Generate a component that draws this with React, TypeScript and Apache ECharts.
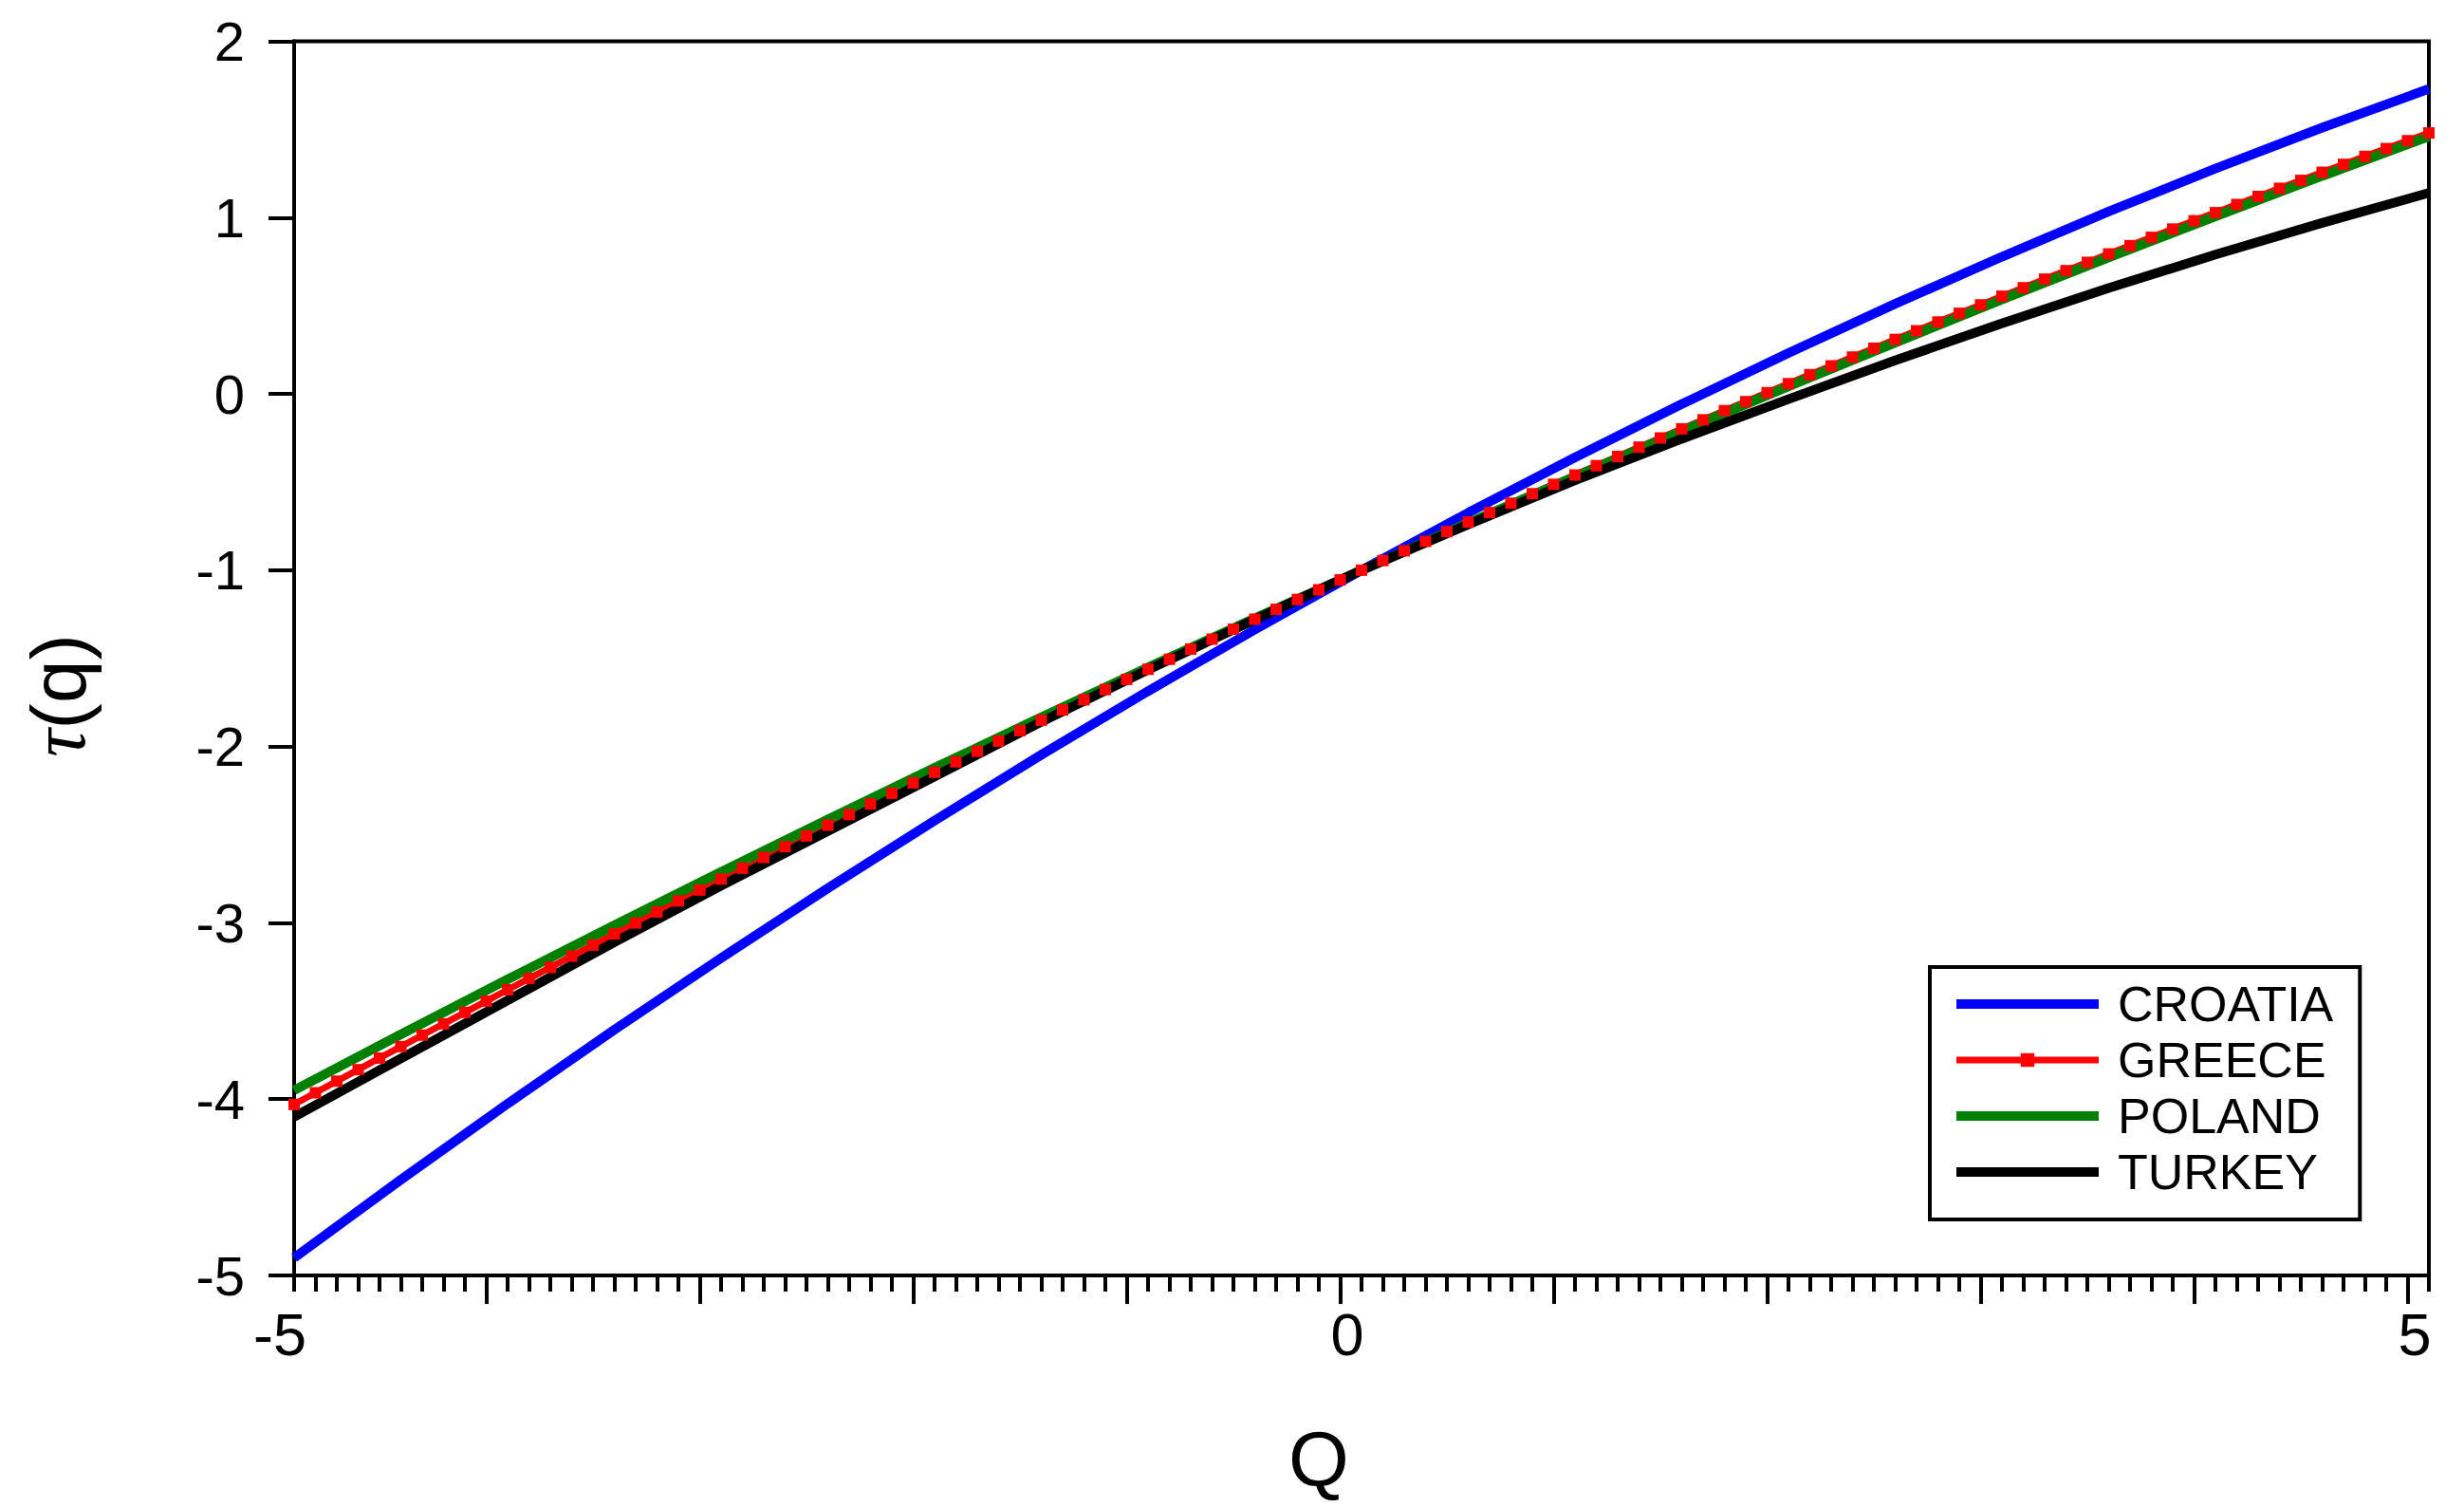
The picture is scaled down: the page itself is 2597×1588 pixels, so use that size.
import React, { useEffect, useRef } from 'react';
import * as echarts from 'echarts';

// q grid for the marked GREECE series (every 0.1)
const Q_FINE = [
  -5, -4.9, -4.8, -4.7, -4.6, -4.5, -4.4, -4.3, -4.2, -4.1,
  -4, -3.9, -3.8, -3.7, -3.6, -3.5, -3.4, -3.3, -3.2, -3.1,
  -3, -2.9, -2.8, -2.7, -2.6, -2.5, -2.4, -2.3, -2.2, -2.1,
  -2, -1.9, -1.8, -1.7, -1.6, -1.5, -1.4, -1.3, -1.2, -1.1,
  -1, -0.9, -0.8, -0.7, -0.6, -0.5, -0.4, -0.3, -0.2, -0.1,
  0, 0.1, 0.2, 0.3, 0.4, 0.5, 0.6, 0.7, 0.8, 0.9,
  1, 1.1, 1.2, 1.3, 1.4, 1.5, 1.6, 1.7, 1.8, 1.9,
  2, 2.1, 2.2, 2.3, 2.4, 2.5, 2.6, 2.7, 2.8, 2.9,
  3, 3.1, 3.2, 3.3, 3.4, 3.5, 3.6, 3.7, 3.8, 3.9,
  4, 4.1, 4.2, 4.3, 4.4, 4.5, 4.6, 4.7, 4.8, 4.9,
  5,
];

// q grid for the other series (every 0.5)
const Q_COARSE = [
  -5, -4.5, -4, -3.5, -3, -2.5, -2, -1.5, -1, -0.5,
  0, 0.5, 1, 1.5, 2, 2.5, 3, 3.5, 4, 4.5, 5,
];

const CROATIA = [
  -4.9, -4.457, -4.026, -3.607, -3.2, -2.804, -2.42, -2.047, -1.686, -1.337,
  -1, -0.674, -0.36, -0.058, 0.232, 0.511, 0.778, 1.034, 1.278, 1.51, 1.73,
];

const GREECE = [
  -4.03, -3.964, -3.898, -3.833, -3.767, -3.702, -3.637, -3.573, -3.508, -3.444,
  -3.38, -3.316, -3.253, -3.189, -3.126, -3.063, -3.001, -2.938, -2.876, -2.814,
  -2.752, -2.69, -2.629, -2.568, -2.507, -2.446, -2.386, -2.326, -2.265, -2.206,
  -2.146, -2.087, -2.027, -1.969, -1.91, -1.851, -1.793, -1.735, -1.677, -1.619,
  -1.562, -1.505, -1.448, -1.391, -1.335, -1.278, -1.222, -1.166, -1.111, -1.055,
  -1, -0.945, -0.89, -0.836, -0.781, -0.727, -0.673, -0.62, -0.566, -0.513,
  -0.46, -0.407, -0.355, -0.302, -0.25, -0.198, -0.147, -0.095, -0.044, 0.007,
  0.058, 0.109, 0.159, 0.209, 0.259, 0.309, 0.358, 0.408, 0.457, 0.505,
  0.554, 0.602, 0.651, 0.699, 0.746, 0.794, 0.841, 0.888, 0.935, 0.982,
  1.028, 1.074, 1.12, 1.166, 1.211, 1.257, 1.302, 1.347, 1.391, 1.436,
  1.48,
];

const POLAND = [
  -3.95, -3.633, -3.321, -3.014, -2.711, -2.414, -2.121, -1.834, -1.551, -1.273,
  -1, -0.732, -0.469, -0.211, 0.043, 0.291, 0.535, 0.774, 1.007, 1.236, 1.46,
];

const TURKEY = [
  -4.1, -3.77, -3.44, -3.11, -2.79, -2.48, -2.17, -1.86, -1.565, -1.28,
  -1, -0.74, -0.49, -0.255, -0.03, 0.19, 0.4, 0.6, 0.79, 0.97, 1.14,
];

const X_MAJOR_TICKS = [-4.1, -3.1, -2.1, -1.1, -0.1, 0.9, 1.9, 2.9, 3.9, 4.9];
const X_LABELS = [-5, 0, 5];
const SERIES_NAMES = ['CROATIA', 'GREECE', 'POLAND', 'TURKEY'];

const FONT = '"Liberation Sans", Arial, sans-serif';

export default function App() {
  const ref = useRef<HTMLDivElement>(null);

  useEffect(() => {
    if (!ref.current) return;
    const chart = echarts.init(ref.current, null, { renderer: 'svg' });
    const pairs = (xs: number[], ys: number[]) => xs.map((x, i) => [x, ys[i]]);

    chart.setOption({
      animation: false,
      backgroundColor: '#ffffff',
      grid: {
        left: 310,
        top: 43.5,
        right: 37,
        bottom: 244,
        show: true,
        borderColor: '#000',
        borderWidth: 4,
        backgroundColor: 'transparent',
      },
      xAxis: [
        {
          type: 'value',
          min: -5,
          max: 5,
          interval: 0.1,
          position: 'bottom',
          axisLine: { show: true, onZero: false, lineStyle: { color: '#000', width: 4 } },
          axisTick: { show: true, inside: false, length: 17, lineStyle: { color: '#000', width: 4 } },
          axisLabel: { show: false },
          splitLine: { show: false },
        },
        {
          type: 'value',
          min: -5,
          max: 5,
          position: 'bottom',
          axisLine: { show: false, onZero: false },
          axisTick: {
            show: true,
            inside: false,
            length: 30,
            customValues: X_MAJOR_TICKS,
            lineStyle: { color: '#000', width: 4 },
          },
          axisLabel: {
            show: true,
            customValues: X_LABELS,
            fontSize: 63,
            fontFamily: FONT,
            color: '#000',
            margin: 30,
            padding: [0, 30, 0, 0],
            showMinLabel: true,
            showMaxLabel: true,
          },
          splitLine: { show: false },
        },
      ],
      yAxis: {
        type: 'value',
        min: -5,
        max: 2,
        interval: 1,
        axisLine: { show: true, onZero: false, lineStyle: { color: '#000', width: 4 } },
        axisTick: { show: true, inside: false, length: 27, lineStyle: { color: '#000', width: 4 } },
        axisLabel: { fontSize: 58, fontFamily: FONT, color: '#000', margin: 52 },
        splitLine: { show: false },
      },
      legend: {
        left: 2034,
        top: 1019,
        orient: 'vertical',
        backgroundColor: '#fff',
        borderColor: '#000',
        borderWidth: 4,
        borderRadius: 0,
        padding: [13, 28, 24, 23],
        itemWidth: 150,
        itemHeight: 18,
        itemGap: 7,
        lineStyle: { width: 'inherit' },
        textStyle: { fontSize: 52, lineHeight: 50, fontFamily: FONT, color: '#000', padding: [0, 0, 0, 15] },
        data: SERIES_NAMES.map((name) =>
          name === 'GREECE'
            ? { name }
            : { name, itemStyle: { opacity: 0, color: 'rgba(0,0,0,0)', borderWidth: 0 } }
        ),
      },
      graphic: [
        {
          type: 'text',
          x: 1390,
          y: 1537,
          style: { text: 'Q', fontSize: 82, fontFamily: FONT, fill: '#000', align: 'center', verticalAlign: 'middle' },
        },
        {
          type: 'text',
          x: 61,
          y: 733,
          rotation: Math.PI / 2,
          style: {
            text: '{t|τ}(q)',
            fontSize: 82,
            fontFamily: FONT,
            fill: '#000',
            align: 'center',
            verticalAlign: 'middle',
            rich: {
              t: { fontSize: 82, fontFamily: '"Liberation Serif", "DejaVu Serif", serif', fontStyle: 'italic', fill: '#000' },
            },
          },
        },
      ],
      series: [
        {
          name: 'CROATIA',
          type: 'line',
          xAxisIndex: 0,
          data: pairs(Q_COARSE, CROATIA),
          symbol: 'none',
          smooth: false,
          lineStyle: { color: '#0000ff', width: 10 },
          itemStyle: { color: '#0000ff' },
        },
        {
          name: 'GREECE',
          type: 'line',
          xAxisIndex: 0,
          data: pairs(Q_FINE, GREECE),
          symbol: 'rect',
          symbolSize: 12,
          showSymbol: true,
          showAllSymbol: true,
          lineStyle: { color: '#ff0000', width: 7 },
          itemStyle: { color: '#ff0000' },
        },
        {
          name: 'POLAND',
          type: 'line',
          xAxisIndex: 0,
          data: pairs(Q_COARSE, POLAND),
          symbol: 'none',
          lineStyle: { color: '#008000', width: 10 },
          itemStyle: { color: '#008000' },
        },
        {
          name: 'TURKEY',
          type: 'line',
          xAxisIndex: 0,
          data: pairs(Q_COARSE, TURKEY),
          symbol: 'none',
          lineStyle: { color: '#000000', width: 10 },
          itemStyle: { color: '#000000' },
        },
      ],
    });

    return () => chart.dispose();
  }, []);

  return (
    <div
      ref={ref}
      style={{ position: 'absolute', left: 0, top: 0, width: 2597, height: 1588 }}
    />
  );
}
